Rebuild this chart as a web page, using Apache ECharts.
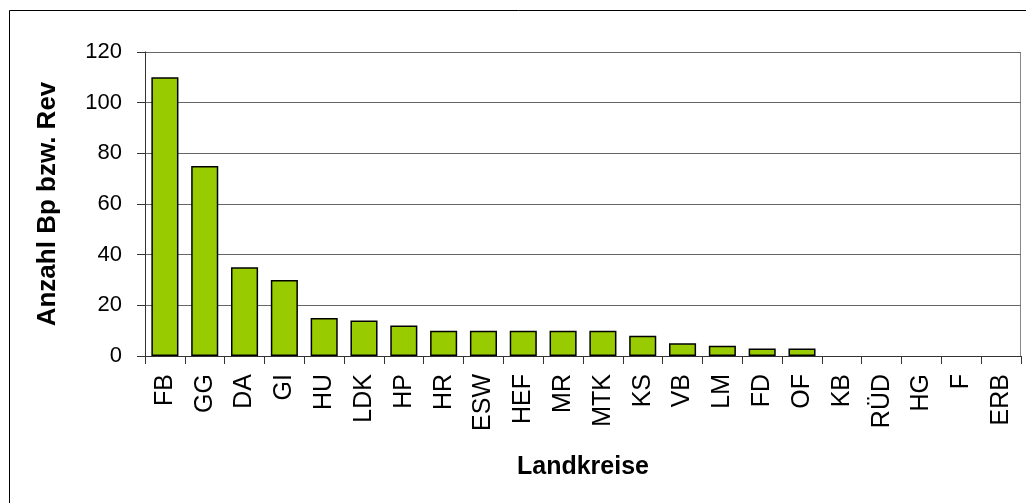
<!DOCTYPE html>
<html>
<head>
<meta charset="utf-8">
<script src="https://cdn.jsdelivr.net/npm/echarts@6/dist/echarts.min.js"></script>
<style>
  html, body { margin: 0; padding: 0; background: #fff; }
  #chart { width: 1026px; height: 503px; }
</style>
</head>
<body>
<div id="chart"></div>
<script>
// Landkreise und Anzahl Bp bzw. Rev
var landkreise = ['FB', 'GG', 'DA', 'GI', 'HU', 'LDK', 'HP', 'HR', 'ESW', 'HEF', 'MR',
  'MTK', 'KS', 'VB', 'LM', 'FD', 'OF', 'KB', 'RÜD', 'HG', 'F', 'ERB']
var anzahl = [110, 75, 35, 30, 15, 14, 12, 10, 10, 10, 10, 10, 8, 5, 4, 3, 3, 0, 0, 0, 0, 0]
var yTicks = { min: 0, max: 120, interval: 20 }

var chart = echarts.init(document.getElementById('chart'))
var font = 'Liberation Sans, Arial, sans-serif'

// Nullwerte ohne Rand, sonst sieht man einen Strich auf der Achse
var barData = anzahl.map(function (v) {
  return v === 0 ? { value: v, itemStyle: { borderWidth: 0 } } : v
})

var options = {
  animation: false,
  backgroundColor: '#fff',
  grid: { left: 145, right: 5, top: 52, bottom: 147 },
  // Rahmen um das ganze Diagramm
  graphic: [{
    type: 'rect',
    shape: { x: 9.5, y: 10.5, width: 1030, height: 520 },
    style: { fill: 'none', stroke: '#000', lineWidth: 1 },
    silent: true
  }, {
    type: 'line',
    shape: { x1: 1020.5, y1: 52, x2: 1020.5, y2: 356 },
    style: { stroke: '#888', lineWidth: 1 },
    silent: true
  }],
  xAxis: {
    type: 'category',
    data: landkreise,
    name: 'Landkreise',
    nameLocation: 'middle',
    nameGap: 99,
    nameTextStyle: { fontFamily: font, fontSize: 25, fontWeight: 'bold', color: '#000' },
    axisLine: { lineStyle: { color: '#333', width: 1 } },
    axisTick: { show: true, length: 8, lineStyle: { color: '#333' } },
    axisLabel: {
      rotate: 90,
      interval: 0,
      margin: 18,
      fontFamily: font,
      fontSize: 25,
      color: '#000'
    }
  },
  yAxis: {
    type: 'value',
    min: yTicks.min,
    max: yTicks.max,
    interval: yTicks.interval,
    name: 'Anzahl Bp bzw. Rev',
    nameLocation: 'middle',
    nameGap: 84,
    nameTextStyle: { fontFamily: font, fontSize: 26, fontWeight: 'bold', color: '#000' },
    axisLine: { show: true, lineStyle: { color: '#333', width: 1 } },
    axisTick: { show: true, length: 8, lineStyle: { color: '#333' } },
    axisLabel: { margin: 23, fontFamily: font, fontSize: 22, color: '#000' },
    splitLine: { show: true, lineStyle: { color: '#666', width: 1 } }
  },
  series: [{
    type: 'bar',
    data: barData,
    barCategoryGap: '32%',
    itemStyle: { color: '#99CC00', borderColor: '#000', borderWidth: 1.5 }
  }]
}
chart.setOption(options)
</script>
</body>
</html>
